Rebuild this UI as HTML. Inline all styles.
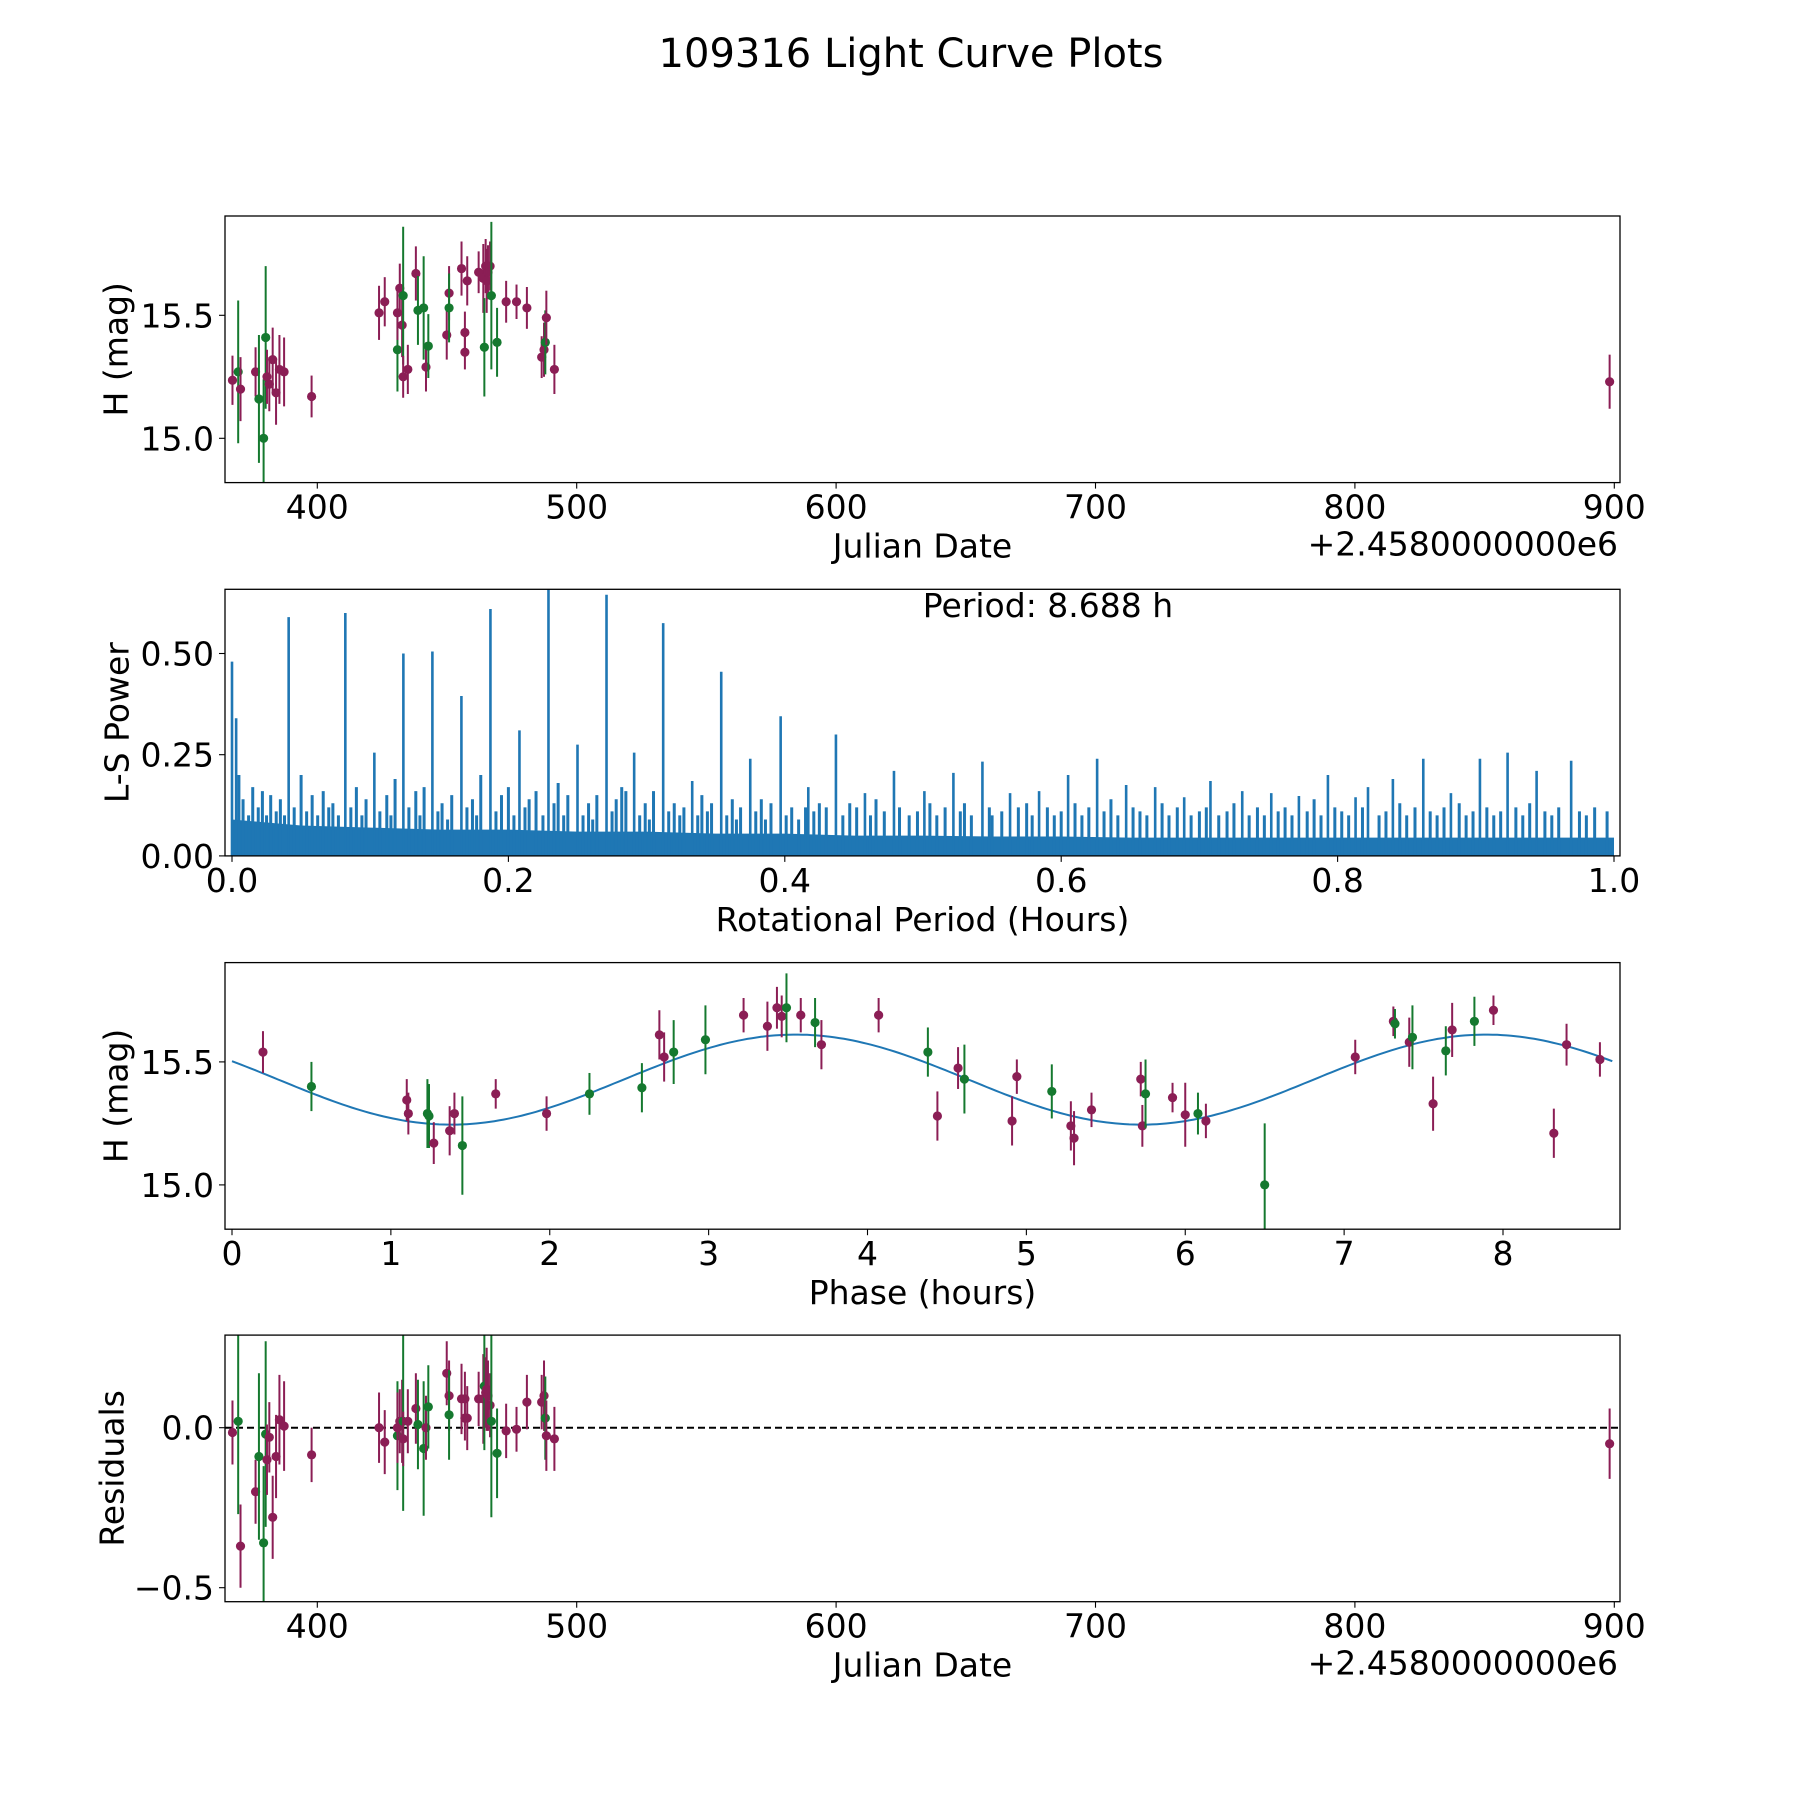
<!DOCTYPE html>
<html><head><meta charset="utf-8"><style>
html,body{margin:0;padding:0;background:#fff}
svg{display:block}
text{font-family:"DejaVu Sans","Liberation Sans",sans-serif;fill:#000}
</style></head><body>
<svg id="fig" width="1800" height="1800" viewBox="0 0 1800 1800">
<text x="911" y="67" font-size="40" text-anchor="middle">109316 Light Curve Plots</text>
</svg>
<script>
// ---- Panel 1 / 4 data (Julian date offset, magnitude, error, band) ----
const jd = [367.3,369.5,370.4,376.2,377.5,379.3,380.1,380.6,381.5,382.8,384.1,385.4,387.2,397.8,
423.8,426.0,430.9,430.9,431.8,432.7,433.1,433.1,434.9,438.0,438.8,441.0,441.9,442.8,449.9,450.8,450.8,
455.6,456.9,456.9,457.8,462.2,464.0,464.4,464.9,465.8,466.6,465.3,467.1,469.3,472.8,476.8,480.8,
486.5,487.4,487.9,488.3,491.4,898.2];
const mag = [15.236,15.27,15.20,15.27,15.16,15.0,15.41,15.25,15.22,15.32,15.185,15.28,15.27,15.17,
15.51,15.555,15.36,15.51,15.61,15.46,15.58,15.25,15.28,15.67,15.52,15.53,15.29,15.375,15.42,15.59,15.53,
15.69,15.43,15.35,15.64,15.675,15.65,15.37,15.70,15.675,15.70,15.64,15.58,15.39,15.555,15.555,15.53,
15.33,15.36,15.39,15.49,15.28,15.23];
const magErr = [0.1,0.29,0.13,0.1,0.26,0.24,0.29,0.11,0.11,0.13,0.13,0.14,0.14,0.085,
0.11,0.1,0.17,0.11,0.1,0.13,0.28,0.085,0.1,0.11,0.14,0.21,0.1,0.13,0.1,0.11,0.14,
0.11,0.085,0.07,0.1,0.085,0.14,0.2,0.11,0.11,0.1,0.13,0.3,0.14,0.085,0.07,0.085,
0.085,0.11,0.13,0.11,0.1,0.11];
const band = ['m','g','m','m','g','g','g','m','m','m','m','m','m','m',
'm','m','g','m','m','m','g','m','m','m','g','g','m','g','m','m','g',
'm','m','m','m','m','m','g','m','m','m','m','g','g','m','m','m',
'm','m','g','m','m','m'];
const resid = [-0.015,0.02,-0.37,-0.2,-0.09,-0.36,-0.02,-0.1,-0.03,-0.28,-0.09,0.025,0.005,-0.085,
0.0,-0.045,-0.025,0.0,0.02,0.02,0.02,-0.035,0.02,0.06,0.01,-0.065,0.0,0.065,0.17,0.1,0.04,
0.09,0.09,0.03,0.03,0.09,0.09,0.13,0.11,0.1,0.07,0.12,0.02,-0.08,-0.01,-0.005,0.08,
0.08,0.1,0.03,-0.025,-0.035,-0.05];
// ---- Panel 3 data (phase in hours) ----
const phase = [0.195,0.5,1.10,1.11,1.23,1.24,1.27,1.37,1.40,1.45,1.66,1.98,2.25,2.58,2.69,2.72,2.78,2.98,
3.22,3.37,3.43,3.46,3.49,3.58,3.67,3.71,4.07,4.38,4.44,4.57,4.61,4.91,4.94,5.16,5.28,5.30,5.41,
5.72,5.73,5.75,5.92,6.00,6.08,6.13,6.50,7.07,7.31,7.32,7.41,7.43,7.56,7.64,7.68,7.82,7.94,8.32,8.40,8.61];
const phMag = [15.54,15.40,15.345,15.29,15.29,15.28,15.17,15.22,15.29,15.16,15.37,15.29,15.37,15.395,15.61,15.52,15.54,15.59,
15.69,15.645,15.72,15.685,15.72,15.69,15.66,15.57,15.69,15.54,15.28,15.475,15.43,15.26,15.44,15.38,15.24,15.19,15.305,
15.43,15.24,15.37,15.355,15.285,15.29,15.26,15.0,15.52,15.665,15.655,15.58,15.60,15.33,15.545,15.63,15.665,15.71,15.21,15.57,15.51];
const phErr = [0.085,0.1,0.085,0.085,0.14,0.13,0.085,0.1,0.085,0.2,0.06,0.07,0.085,0.1,0.1,0.1,0.13,0.14,
0.07,0.1,0.085,0.085,0.14,0.07,0.1,0.1,0.07,0.1,0.1,0.085,0.14,0.1,0.07,0.11,0.1,0.11,0.07,
0.07,0.085,0.14,0.06,0.13,0.085,0.07,0.25,0.07,0.06,0.06,0.1,0.13,0.11,0.1,0.11,0.1,0.06,0.1,0.085,0.07];
const phBand = ['m','g','m','m','g','g','m','m','m','g','m','m','g','g','m','m','g','g',
'm','m','m','m','g','m','g','m','m','g','m','m','g','m','m','g','m','m','m',
'm','m','g','m','m','g','m','g','m','m','g','m','g','m','g','m','g','m','m','m','m'];
// model fit parameters (period 8.688 h, double-peaked)
const fitMean = [15.428], fitAmp = [0.183], fitPeak = [3.55], fitHalfPeriod = [4.344];
// ---- Panel 2 periodogram data ----
const peakPeriod = [0.0,0.003,0.041,0.082,0.103,0.124,0.145,0.166,0.187,0.208,0.229,0.25,0.271,0.291,0.312,0.333,0.354,0.375,0.397,0.417,0.437,0.458,0.479,0.501,0.522,0.543,0.563,0.584,0.605,0.626,0.647,0.668,0.689,0.708,0.731,0.752,0.772,0.793,0.813,0.822,0.84,0.862,0.882,0.903,0.923,0.944,0.969];
const peakPower = [0.48,0.34,0.59,0.60,0.255,0.50,0.505,0.395,0.61,0.31,0.66,0.275,0.645,0.255,0.575,0.185,0.455,0.24,0.345,0.17,0.30,0.155,0.21,0.16,0.205,0.233,0.155,0.16,0.2,0.24,0.175,0.17,0.145,0.185,0.16,0.155,0.148,0.2,0.145,0.17,0.19,0.24,0.155,0.24,0.255,0.21,0.235];
const minorPeriod = [0.005,0.008,0.012,0.015,0.019,0.022,0.025,0.028,0.032,0.035,0.038,0.045,0.05,0.054,0.058,0.062,0.066,0.07,0.073,0.077,0.086,0.09,0.094,0.097,0.107,0.112,0.115,0.118,0.128,0.133,0.136,0.139,0.149,0.152,0.156,0.159,0.17,0.174,0.177,0.18,0.191,0.195,0.2,0.204,0.212,0.215,0.22,0.225,0.233,0.236,0.24,0.243,0.254,0.258,0.261,0.264,0.275,0.278,0.282,0.285,0.295,0.299,0.302,0.305,0.316,0.32,0.324,0.327,0.337,0.34,0.344,0.347,0.358,0.362,0.365,0.368,0.379,0.383,0.386,0.39,0.401,0.405,0.41,0.415,0.421,0.425,0.43,0.442,0.447,0.452,0.462,0.466,0.472,0.483,0.49,0.496,0.505,0.51,0.516,0.527,0.53,0.535,0.548,0.55,0.557,0.569,0.575,0.579,0.59,0.595,0.6,0.61,0.615,0.62,0.631,0.636,0.641,0.652,0.657,0.662,0.673,0.678,0.684,0.694,0.7,0.705,0.714,0.72,0.725,0.736,0.742,0.747,0.757,0.762,0.767,0.778,0.783,0.788,0.798,0.803,0.808,0.818,0.83,0.835,0.845,0.85,0.856,0.867,0.872,0.877,0.888,0.893,0.898,0.908,0.913,0.918,0.929,0.934,0.939,0.95,0.955,0.96,0.975,0.98,0.986,0.995];
const minorPower = [0.2,0.14,0.1,0.17,0.12,0.16,0.1,0.15,0.11,0.14,0.1,0.12,0.2,0.11,0.15,0.1,0.16,0.12,0.13,0.1,0.12,0.17,0.1,0.14,0.11,0.15,0.1,0.19,0.12,0.16,0.1,0.17,0.11,0.13,0.09,0.15,0.12,0.14,0.1,0.2,0.11,0.15,0.17,0.1,0.12,0.14,0.16,0.1,0.13,0.18,0.1,0.15,0.1,0.13,0.09,0.15,0.11,0.14,0.17,0.16,0.1,0.13,0.09,0.16,0.11,0.13,0.1,0.12,0.1,0.15,0.11,0.13,0.1,0.14,0.09,0.12,0.11,0.14,0.09,0.13,0.1,0.12,0.09,0.12,0.11,0.13,0.12,0.1,0.13,0.12,0.1,0.14,0.11,0.12,0.1,0.11,0.13,0.1,0.12,0.11,0.13,0.1,0.12,0.1,0.11,0.12,0.13,0.1,0.12,0.1,0.11,0.13,0.1,0.12,0.11,0.14,0.1,0.12,0.11,0.1,0.13,0.1,0.12,0.1,0.11,0.12,0.1,0.11,0.13,0.1,0.12,0.1,0.11,0.12,0.1,0.11,0.14,0.1,0.12,0.11,0.1,0.12,0.1,0.11,0.13,0.1,0.12,0.11,0.1,0.12,0.13,0.1,0.11,0.12,0.1,0.11,0.12,0.1,0.13,0.11,0.1,0.12,0.11,0.1,0.12,0.11,0.1,0.2];
const bandPeriod = [0,0.05,0.1,0.15,0.2,0.25,0.3,0.35,0.4,0.45,0.5,0.55,0.6,0.65,0.7,0.75,0.8,0.85,0.9,0.95,1.0];
const bandPower = [0.09,0.075,0.07,0.065,0.065,0.06,0.06,0.055,0.055,0.05,0.05,0.048,0.048,0.045,0.045,0.045,0.045,0.045,0.045,0.045,0.045];

const NS='http://www.w3.org/2000/svg';
const svg=document.getElementById('fig');
const COL={m:'#8b1e55',g:'#15792f'};
const L=225,R=1620,H=266.6;
const TOPS=[216,589.3,962.6,1335.1];
function mk(tag,attrs,parent){const e=document.createElementNS(NS,tag);for(const k in attrs)e.setAttribute(k,attrs[k]);(parent||svg).appendChild(e);return e;}
function lin(d0,d1,r0,r1){return v=>r0+(v-d0)*(r1-r0)/(d1-d0);}

function axesFrame(i,name){
  const g=mk('g',{});
  
  
  const cp=mk('clipPath',{id:'clip'+i},g);
  mk('rect',{x:L,y:TOPS[i],width:R-L,height:H},cp);
  const plot=mk('g',{'clip-path':'url(#clip'+i+')'},g);
  
  
  return {g,plot,top:TOPS[i],bot:TOPS[i]+H};
}
function frame(ax){const r=mk('rect',{x:L,y:ax.top,width:R-L,height:H,fill:'none',stroke:'#000','stroke-width':1.3},ax.g);}
function xticks(ax,sx,vals,labels){
  vals.forEach((v,k)=>{const x=sx(v);
    mk('line',{x1:x,x2:x,y1:ax.bot,y2:ax.bot+6,stroke:'#000','stroke-width':1.1},ax.g);
    const t=mk('text',{x:x,y:ax.bot+36,'font-size':33,'text-anchor':'middle'},ax.g);t.textContent=labels[k];
    
    });
}
function yticks(ax,sy,vals,labels){
  vals.forEach((v,k)=>{const y=sy(v);
    mk('line',{x1:L-6,x2:L,y1:y,y2:y,stroke:'#000','stroke-width':1.1},ax.g);
    const t=mk('text',{x:L-11,y:y+12,'font-size':33,'text-anchor':'end'},ax.g);t.textContent=labels[k];
    
    });
}
function xlabel(ax,txt){const t=mk('text',{x:(L+R)/2,y:ax.bot+75,'font-size':33,'text-anchor':'middle'},ax.g);t.textContent=txt;
  
  }
function ylabel(ax,txt,cx){const cy=(ax.top+ax.bot)/2;const t=mk('text',{x:cx,y:cy,'font-size':33,'text-anchor':'middle','dominant-baseline':'central',transform:'rotate(-90 '+cx+' '+cy+')'},ax.g);t.textContent=txt;
  
  }
function offsetText(ax){const t=mk('text',{x:R-2,y:ax.bot+73,'font-size':33,'text-anchor':'end'},ax.g);t.textContent='+2.4580000000e6';
  
  }
function errpt(parent,x,y,y1,y2,c){
  const l=mk('line',{x1:x,x2:x,y1:y1,y2:y2,stroke:c,'stroke-width':2},parent);
  
  
  const p=mk('circle',{cx:x,cy:y,r:4.6,fill:c},parent);
  
  
}

// ---- Panel 1 ----
(function(){
  const ax=axesFrame(0,'light-curve-panel');
  const sx=lin(400,900,317.3,1614.3), sy=lin(15.0,15.5,438.3,315.3);
  jd.forEach((d,k)=>errpt(ax.plot,sx(d),sy(mag[k]),sy(mag[k]+magErr[k]),sy(mag[k]-magErr[k]),COL[band[k]]));
  frame(ax);
  xticks(ax,sx,[400,500,600,700,800,900],['400','500','600','700','800','900']);
  yticks(ax,sy,[15.0,15.5],['15.0','15.5']);
  xlabel(ax,'Julian Date');offsetText(ax);ylabel(ax,'H (mag)',116);
})();
// ---- Panel 2 ----
(function(){
  const ax=axesFrame(1,'periodogram-panel');
  const sx=lin(0,1,232,1614), sy=lin(0,0.5,855.9,653.5);
  let d='M'+sx(bandPeriod[0])+','+sy(0);
  bandPeriod.forEach((p,k)=>{d+=' L'+sx(p)+','+sy(bandPower[k]);});
  d+=' L'+sx(1)+','+sy(0)+' Z';
  const b=mk('path',{d:d,fill:'#1f77b4'},ax.plot);
  
  
  minorPeriod.forEach((p,k)=>{const l=mk('line',{x1:sx(p),x2:sx(p),y1:sy(0),y2:sy(minorPower[k]),stroke:'#1f77b4','stroke-width':3},ax.plot);
    
    });
  peakPeriod.forEach((p,k)=>{const l=mk('line',{x1:sx(p),x2:sx(p),y1:sy(0),y2:sy(peakPower[k]),stroke:'#1f77b4','stroke-width':2.6},ax.plot);
    
    });
  frame(ax);
  xticks(ax,sx,[0,0.2,0.4,0.6,0.8,1.0],['0.0','0.2','0.4','0.6','0.8','1.0']);
  yticks(ax,sy,[0,0.25,0.5],['0.00','0.25','0.50']);
  xlabel(ax,'Rotational Period (Hours)');ylabel(ax,'L-S Power',117);
  const t=mk('text',{x:1048,y:617,'font-size':33,'text-anchor':'middle'},ax.g);t.textContent='Period: 8.688 h';
  
  
})();
// ---- Panel 3 ----
(function(){
  const ax=axesFrame(2,'phase-folded-panel');
  const sx=lin(0,8,232,1503), sy=lin(15.0,15.5,438.3+746.6,315.3+746.6);
  let d='';
  for(let i=0;i<=300;i++){const p=8.688*i/300;const v=fitMean[0]+fitAmp[0]*Math.cos(2*Math.PI*(p-fitPeak[0])/fitHalfPeriod[0]);d+=(i?' L':'M')+sx(p).toFixed(1)+','+sy(v).toFixed(1);}
  const c=mk('path',{d:d,fill:'none',stroke:'#1f77b4','stroke-width':2},ax.plot);
  
  
  phase.forEach((p,k)=>errpt(ax.plot,sx(p),sy(phMag[k]),sy(phMag[k]+phErr[k]),sy(phMag[k]-phErr[k]),COL[phBand[k]]));
  frame(ax);
  xticks(ax,sx,[0,1,2,3,4,5,6,7,8],['0','1','2','3','4','5','6','7','8']);
  yticks(ax,sy,[15.0,15.5],['15.0','15.5']);
  xlabel(ax,'Phase (hours)');ylabel(ax,'H (mag)',116);
})();
// ---- Panel 4 ----
(function(){
  const ax=axesFrame(3,'residuals-panel');
  const sx=lin(400,900,317.3,1614.3), sy=lin(0,-0.5,1427.7,1587.7);
  const z=mk('line',{x1:L,x2:R,y1:sy(0),y2:sy(0),stroke:'#000','stroke-width':2,'stroke-dasharray':'7,4'},ax.plot);
  
  
  jd.forEach((d,k)=>errpt(ax.plot,sx(d),sy(resid[k]),sy(resid[k]+magErr[k]),sy(resid[k]-magErr[k]),COL[band[k]]));
  frame(ax);
  xticks(ax,sx,[400,500,600,700,800,900],['400','500','600','700','800','900']);
  yticks(ax,sy,[-0.5,0.0],['\u22120.5','0.0']);
  xlabel(ax,'Julian Date');offsetText(ax);ylabel(ax,'Residuals',112);
})();
</script>
</body></html>
